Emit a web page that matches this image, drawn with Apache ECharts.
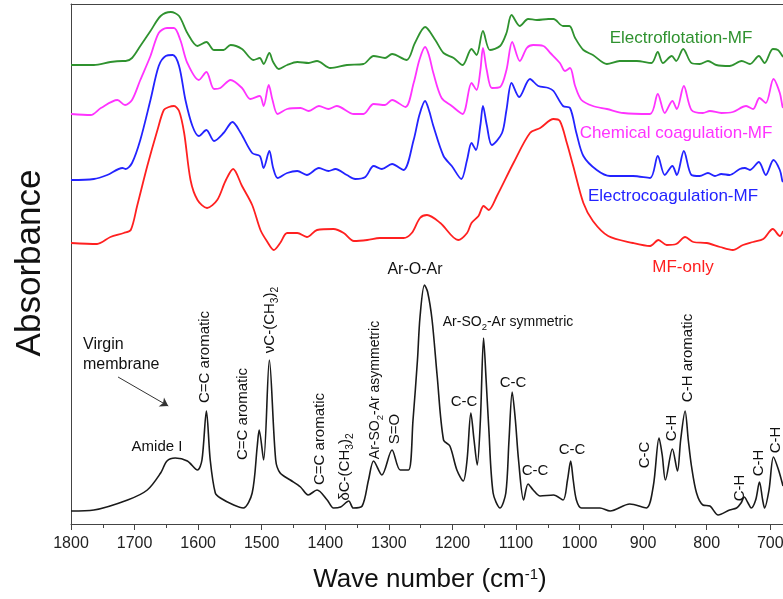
<!DOCTYPE html>
<html><head><meta charset="utf-8">
<script src="https://cdn.jsdelivr.net/npm/echarts@6/dist/echarts.min.js"></script>
<style>html,body{margin:0;padding:0;background:#fff}#c{width:783px;height:599px}</style>
</head><body><div id="c"></div>
<script>
// wavenumber (cm-1), absorbance (a.u., spectra offset as in the figure)
const virgin = [[1800,0.13],[1764,0.14],[1711,0.24],[1680,0.34],[1659,0.51],[1649,0.63],[1636,0.66],[1617,0.63],[1601,0.54],[1594,0.64],[1587,1.13],[1581,0.64],[1573,0.31],[1565,0.26],[1544,0.19],[1529,0.16],[1515,0.31],[1507,0.78],[1504,0.94],[1497,0.64],[1488,1.64],[1478,0.64],[1471,0.51],[1455,0.44],[1439,0.37],[1427,0.29],[1413,0.34],[1397,0.24],[1387,0.16],[1376,0.17],[1363,0.23],[1356,0.16],[1342,0.18],[1332,0.44],[1324,0.63],[1311,0.49],[1295,0.74],[1282,0.54],[1269,0.54],[1262,1.04],[1255,1.64],[1251,2.07],[1244,2.39],[1239,2.32],[1232,2.04],[1224,1.48],[1214,0.84],[1204,0.78],[1193,0.54],[1183,0.43],[1177,0.64],[1171,1.11],[1166,0.84],[1161,0.59],[1156,1.04],[1151,1.86],[1147,1.44],[1143,0.98],[1136,0.31],[1125,0.16],[1116,0.31],[1111,0.84],[1106,1.32],[1101,1.04],[1096,0.64],[1088,0.24],[1081,0.40],[1073,0.34],[1062,0.28],[1041,0.29],[1026,0.24],[1019,0.44],[1014,0.63],[1010,0.44],[1005,0.24],[997,0.16],[968,0.16],[952,0.13],[921,0.20],[895,0.16],[884,0.38],[875,0.86],[870,0.69],[865,0.44],[854,0.75],[846,0.53],[841,0.84],[834,1.13],[829,0.84],[824,0.58],[816,0.31],[806,0.19],[795,0.18],[782,0.09],[764,0.14],[753,0.16],[746,0.21],[741,0.27],[735,0.21],[730,0.16],[723,0.24],[717,0.42],[712,0.24],[709,0.16],[702,0.34],[695,0.67],[687,0.54],[680,0.38]];
const mfOnly = [[1800,2.81],[1759,2.80],[1738,2.87],[1717,2.91],[1706,2.94],[1696,3.18],[1680,3.58],[1664,3.94],[1654,4.14],[1646,4.17],[1638,4.18],[1630,4.13],[1622,3.91],[1612,3.44],[1601,3.24],[1586,3.16],[1570,3.24],[1557,3.43],[1545,3.55],[1531,3.38],[1515,3.19],[1502,2.94],[1492,2.83],[1481,2.74],[1471,2.81],[1460,2.91],[1444,2.91],[1429,2.87],[1413,2.94],[1387,2.95],[1371,2.91],[1355,2.83],[1334,2.84],[1314,2.86],[1277,2.86],[1264,2.91],[1251,3.06],[1240,3.09],[1219,3.01],[1191,2.84],[1177,2.91],[1170,3.01],[1159,3.08],[1151,3.18],[1143,3.14],[1130,3.28],[1104,3.61],[1078,3.91],[1062,3.96],[1041,4.05],[1031,4.03],[1020,3.81],[1010,3.58],[994,3.21],[979,3.03],[955,2.88],[916,2.81],[889,2.78],[876,2.84],[863,2.79],[848,2.80],[834,2.87],[821,2.82],[800,2.81],[779,2.77],[759,2.74],[743,2.79],[727,2.82],[711,2.85],[696,2.95],[685,2.88],[680,2.93]];
const electrocoag = [[1800,3.44],[1764,3.45],[1743,3.49],[1719,3.56],[1714,3.55],[1704,3.61],[1691,3.84],[1675,4.24],[1662,4.58],[1651,4.68],[1640,4.69],[1630,4.58],[1620,4.24],[1609,3.98],[1599,3.88],[1587,3.94],[1575,3.83],[1560,3.91],[1546,4.02],[1533,3.91],[1515,3.71],[1503,3.68],[1497,3.56],[1488,3.73],[1482,3.56],[1475,3.46],[1460,3.51],[1444,3.53],[1429,3.49],[1410,3.56],[1395,3.53],[1384,3.55],[1366,3.49],[1353,3.45],[1337,3.47],[1324,3.58],[1311,3.55],[1295,3.60],[1277,3.54],[1261,3.84],[1252,4.09],[1243,4.23],[1237,4.14],[1230,3.98],[1214,3.68],[1201,3.58],[1186,3.45],[1177,3.64],[1170,3.81],[1163,3.74],[1156,3.99],[1152,4.18],[1146,3.99],[1138,3.79],[1122,3.91],[1115,4.14],[1107,4.41],[1095,4.27],[1078,4.45],[1065,4.38],[1049,4.36],[1041,4.33],[1026,4.18],[1015,4.16],[1005,3.91],[994,3.68],[973,3.54],[952,3.48],[916,3.48],[889,3.46],[877,3.68],[866,3.49],[854,3.58],[847,3.49],[836,3.73],[824,3.49],[811,3.48],[798,3.51],[787,3.48],[777,3.50],[764,3.49],[748,3.55],[740,3.56],[732,3.54],[718,3.62],[707,3.49],[695,3.64],[685,3.54],[681,3.43],[680,3.42]];
const chemcoag = [[1800,4.10],[1769,4.09],[1753,4.16],[1727,4.24],[1715,4.19],[1704,4.24],[1691,4.44],[1675,4.68],[1662,4.91],[1649,4.96],[1638,4.96],[1628,4.84],[1617,4.61],[1599,4.44],[1587,4.52],[1575,4.35],[1565,4.36],[1549,4.44],[1531,4.36],[1518,4.25],[1503,4.28],[1497,4.18],[1489,4.39],[1483,4.24],[1475,4.10],[1460,4.15],[1439,4.16],[1426,4.13],[1410,4.18],[1395,4.15],[1382,4.18],[1355,4.10],[1340,4.10],[1324,4.20],[1306,4.19],[1295,4.24],[1274,4.17],[1261,4.41],[1252,4.64],[1243,4.77],[1237,4.69],[1230,4.51],[1217,4.26],[1201,4.18],[1184,4.10],[1170,4.41],[1162,4.34],[1156,4.54],[1152,4.76],[1146,4.54],[1138,4.36],[1125,4.37],[1115,4.54],[1106,4.82],[1094,4.63],[1083,4.76],[1073,4.79],[1057,4.78],[1046,4.71],[1031,4.61],[1023,4.53],[1015,4.56],[1007,4.38],[997,4.24],[979,4.18],[957,4.15],[931,4.11],[889,4.10],[877,4.30],[866,4.11],[854,4.23],[847,4.15],[836,4.38],[824,4.14],[806,4.11],[795,4.13],[777,4.11],[759,4.12],[738,4.18],[727,4.15],[717,4.26],[707,4.21],[695,4.45],[685,4.31],[681,4.18],[680,4.16]];
const electroflot = [[1800,4.59],[1764,4.59],[1738,4.62],[1719,4.63],[1714,4.63],[1704,4.66],[1691,4.78],[1675,4.93],[1659,5.08],[1643,5.12],[1630,5.08],[1617,4.91],[1601,4.78],[1587,4.82],[1575,4.74],[1560,4.74],[1549,4.79],[1531,4.75],[1513,4.64],[1503,4.66],[1497,4.60],[1488,4.71],[1482,4.62],[1473,4.55],[1460,4.59],[1444,4.62],[1426,4.61],[1413,4.63],[1392,4.56],[1366,4.59],[1340,4.60],[1324,4.68],[1306,4.66],[1295,4.70],[1272,4.64],[1259,4.81],[1243,4.97],[1227,4.84],[1214,4.71],[1198,4.66],[1184,4.59],[1170,4.75],[1162,4.69],[1152,4.93],[1141,4.74],[1125,4.78],[1115,4.91],[1107,5.09],[1094,4.98],[1081,5.05],[1067,5.04],[1049,5.05],[1041,5.05],[1026,4.98],[1016,4.98],[1007,4.86],[994,4.74],[979,4.69],[957,4.60],[937,4.63],[910,4.63],[887,4.61],[877,4.72],[869,4.61],[855,4.68],[848,4.63],[837,4.75],[824,4.61],[811,4.60],[798,4.63],[785,4.59],[764,4.58],[745,4.63],[732,4.60],[718,4.68],[709,4.61],[696,4.75],[688,4.74],[681,4.68],[680,4.67]];
const majorTicks = [700,800,900,1000,1100,1200,1300,1400,1500,1600,1700,1800];
const minorTicks = [750,850,950,1050,1150,1250,1350,1450,1550,1650,1750];

const FONT = 'Liberation Sans, Arial, sans-serif';
const chart = echarts.init(document.getElementById('c'), null, {renderer:'canvas'});

function lineSeries(name, data, color, w) {
  return {name, type:'line', data, xAxisIndex:0, yAxisIndex:0, showSymbol:false, symbol:'none',
    smooth:0.3, lineStyle:{color, width:w}, silent:true, z:3};
}
const subRich = fs => ({s:{fontSize:fs*0.68, lineHeight:fs*0.68, verticalAlign:'bottom', fontFamily:FONT, fill:'#111'}});
function txt(x, y, text, fs, opts) {
  opts = opts || {};
  return {type:'text', x, y, rotation: opts.rot ? Math.PI/2 : 0, z:10,
    style:{text, fill: opts.color || '#111', fontSize:fs, fontFamily:FONT,
      align: opts.align || 'center', verticalAlign:'middle', lineHeight: fs+6, rich: subRich(fs)}};
}
const gridBase = {left:71, right:0, top:4, bottom:75, containLabel:false, outerBoundsMode:'none'};

const option = {
  animation:false,
  backgroundColor:'#fff',
  grid:[Object.assign({}, gridBase), Object.assign({}, gridBase)],
  xAxis:[
    {type:'value', gridIndex:0, min:680, max:1800, inverse:true, position:'bottom',
      axisLine:{show:true, lineStyle:{color:'#444', width:1}},
      axisTick:{show:true, inside:false, length:6, customValues:majorTicks, lineStyle:{color:'#444'}},
      axisLabel:{customValues:majorTicks, fontSize:16, color:'#222', margin:12, fontFamily:FONT,
        formatter: v => String(v), hideOverlap:false, showMinLabel:true, showMaxLabel:true},
      splitLine:{show:false}},
    {type:'value', gridIndex:0, min:680, max:1800, inverse:true, position:'top',
      axisLine:{show:true, lineStyle:{color:'#444', width:1}},
      axisTick:{show:false}, axisLabel:{show:false}, splitLine:{show:false}},
    {type:'value', gridIndex:1, min:680, max:1800, inverse:true, position:'bottom',
      axisLine:{show:false},
      axisTick:{show:true, length:4, customValues:minorTicks, lineStyle:{color:'#444'}},
      axisLabel:{show:false}, splitLine:{show:false}}
  ],
  yAxis:[
    {type:'value', gridIndex:0, min:0, max:5.2, axisLine:{show:true, lineStyle:{color:'#444', width:1}},
      axisTick:{show:false}, axisLabel:{show:false}, splitLine:{show:false}},
    {type:'value', gridIndex:1, min:0, max:5.2, show:false}
  ],
  series:[
    lineSeries('MF-only', mfOnly, '#ff2020', 1.8),
    lineSeries('Electrocoagulation-MF', electrocoag, '#2323ff', 1.8),
    lineSeries('Chemical coagulation-MF', chemcoag, '#ff33ff', 1.8),
    lineSeries('Electroflotation-MF', electroflot, '#2f922f', 1.8),
    Object.assign(lineSeries('Virgin membrane', virgin, '#1a1a1a', 1.6), {
      markLine:{silent:true, symbol:['none','arrow'], symbolSize:8,
        lineStyle:{color:'#333', width:1, type:'solid'}, label:{show:false},
        data:[[{coord:[1726,1.47]},{coord:[1647,1.18]}]]}
    })
  ],
  graphic:[
    {type:'text', x:30, y:263, rotation:Math.PI/2, style:{text:'Absorbance', fontSize:35, fontFamily:FONT, fill:'#111', align:'center', verticalAlign:'middle'}},
    {type:'text', x:430, y:580, style:{text:'Wave number (cm{p|-1})', fontSize:26, fontFamily:FONT, fill:'#111', align:'center', verticalAlign:'middle',
      rich:{p:{fontSize:15, lineHeight:15, verticalAlign:'top', fontFamily:FONT, fill:'#111'}}}},
    txt(681, 38, 'Electroflotation-MF', 17, {color:'#2f922f'}),
    txt(676, 133, 'Chemical coagulation-MF', 17, {color:'#ff33ff'}),
    txt(673, 196, 'Electrocoagulation-MF', 17, {color:'#2323ff'}),
    txt(683, 267, 'MF-only', 17, {color:'#ff2020'}),
    txt(83, 345, 'Virgin', 16, {align:'left'}),
    txt(83, 365, 'membrane', 16, {align:'left'}),
    txt(157, 447, 'Amide I', 15),
    txt(205, 357, 'C=C aromatic', 15, {rot:true}),
    txt(243, 414, 'C=C aromatic', 15, {rot:true}),
    txt(270, 320, '\u03BDC-(CH{s|3}){s|2}', 15, {rot:true}),
    txt(320, 439, 'C=C aromatic', 15, {rot:true}),
    txt(345, 467, '\u03B4C-(CH{s|3}){s|2}', 15, {rot:true}),
    txt(375, 390, 'Ar-SO{s|2}-Ar asymmetric', 14, {rot:true}),
    txt(395, 429, 'S=O', 15, {rot:true}),
    txt(415, 270, 'Ar-O-Ar', 16),
    txt(508, 322, 'Ar-SO{s|2}-Ar symmetric', 14),
    txt(464, 402, 'C-C', 15),
    txt(513, 383, 'C-C', 15),
    txt(535, 471, 'C-C', 15),
    txt(572, 450, 'C-C', 15),
    txt(645, 455, 'C-C', 15, {rot:true}),
    txt(672, 428, 'C-H', 15, {rot:true}),
    txt(688, 358, 'C-H aromatic', 15, {rot:true}),
    txt(740, 488, 'C-H', 15, {rot:true}),
    txt(759, 463, 'C-H', 15, {rot:true}),
    txt(776, 440, 'C-H', 15, {rot:true})
  ]
};
chart.setOption(option);
</script></body></html>
